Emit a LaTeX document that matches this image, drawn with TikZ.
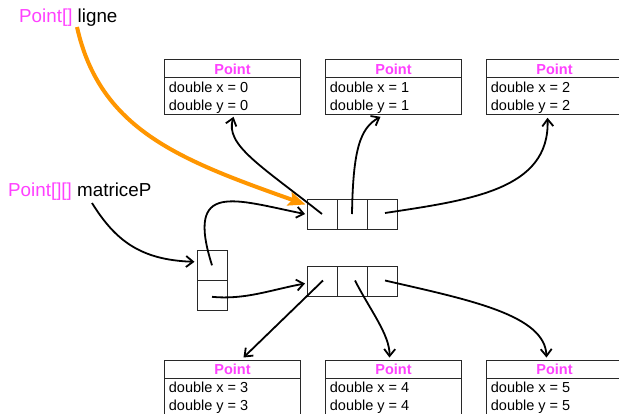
\documentclass[tikz,border=0pt]{standalone}
\usepackage{fontspec}
\setmainfont{Liberation Sans}
\usetikzlibrary{arrows.meta,calc}
\definecolor{mag}{RGB}{255,64,255}
\definecolor{orng}{RGB}{255,150,0}
\definecolor{edge}{RGB}{40,40,40}

% A "Point" object: name, left, top, coordinate value
\newcommand\pointbox[4]{%
  \node[objbox] (#1) at (#2,#3) {};
  \draw[sep] ($(#1.north west)+(0,18.5)$) -- ($(#1.north east)+(0,18.5)$);
  \node[objtitle] (#1-t) at ($(#1.north)+(0,14.7)$) {Point};
  \node[field] (#1-x) at ($(#1.north west)+(4.7,33)$) {double x = #4};
  \node[field] (#1-y) at ($(#1.north west)+(4.7,50.8)$) {double y = #4};
}

\begin{document}
\begin{tikzpicture}[x=1pt,y=-1pt,
  objbox/.style={draw=edge,line width=1pt,inner sep=0,minimum width=136pt,
    minimum height=55pt,anchor=north west},
  sep/.style={draw=edge,line width=1pt},
  cell/.style={draw=edge,line width=1pt,inner sep=0,minimum size=30pt},
  objtitle/.style={font=\fontsize{14.5}{17}\selectfont\bfseries,text=mag,
    inner sep=0,anchor=base},
  field/.style={font=\fontsize{14.5}{17}\selectfont,inner sep=0,anchor=base west},
  varname/.style={font=\fontsize{18.8}{22}\selectfont,inner sep=0,anchor=base west},
  ref/.style={line width=1.8pt,-{Straight Barb[length=7pt,width=11pt]}},
  hot/.style={orng,line width=4pt,-{Stealth[length=17pt,width=14pt,inset=3pt]}}]
\useasboundingbox (0,0) rectangle (619,413);

% variables
\node[varname] (ligne) at (19,22) {\textcolor{mag}{Point[]} ligne};
\node[varname] (matp) at (8,196.7) {\textcolor{mag}{Point[][]} matriceP};
\coordinate (ligne-out) at (77,27);
\coordinate (matp-out) at (92,203);

% objects
\pointbox{p0}{164}{59.3}{0}
\pointbox{p1}{325}{59.3}{1}
\pointbox{p2}{486}{59.3}{2}
\pointbox{q0}{164}{359.5}{3}
\pointbox{q1}{325}{359.5}{4}
\pointbox{q2}{486}{359.5}{5}

% arrays
\node[cell] (a1) at (322,214) {};
\node[cell] (a2) at (352,214) {};
\node[cell] (a3) at (382,214) {};
\node[cell] (b1) at (322,281.5) {};
\node[cell] (b2) at (352,281.5) {};
\node[cell] (b3) at (382,281.5) {};
\node[cell] (m1) at (212,265.3) {};
\node[cell] (m2) at (212,295.8) {};

% references
\draw[hot] (ligne-out) .. controls (100,130) and (180,160) .. ($(a1.north west)+(-1,6)$);
\draw[ref] (matp-out) .. controls (115,240) and (140,260) .. ($(m1.west)+(-2,-3.5)$);
\draw[ref] (m1.center) .. controls (185,180) and (235,200) .. ($(a1.west)+(-1.5,0)$);
\draw[ref] ($(m2.center)+(0,1)$) .. controls (245,300) and (270,290) .. ($(b1.west)+(-1.5,2)$);

\draw[ref] (a1.center) .. controls (260,165) and (225,145) .. ($(p0.south)+(1,1.5)$);
\draw[ref] (a2.center) .. controls (353,150) and (360,128) .. ($(p1.south)+(-13,1.5)$);
\draw[ref] ($(a3.center)+(3,-1)$) .. controls (470,200) and (550,190) .. ($(p2.south)+(-7,2.5)$);

\draw[ref] ($(b1.center)+(1,-1)$) -- ($(q0.north)+(11,-2)$);
\draw[ref] ($(b2.center)+(3,-1)$) .. controls (370,310) and (390,335) .. ($(q1.north)+(-4,-2)$);
\draw[ref] ($(b3.center)+(3,-1)$) .. controls (470,300) and (545,315) .. ($(q2.north)+(-8,-2)$);
\end{tikzpicture}
\end{document}
